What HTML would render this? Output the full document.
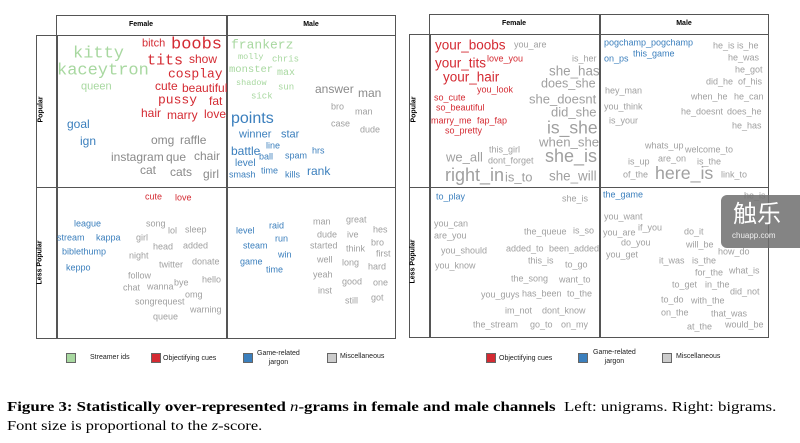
<!DOCTYPE html>
<html><head><meta charset="utf-8"><style>
body{margin:0;width:800px;height:443px;background:#fff;position:relative;overflow:hidden;font-family:"Liberation Sans",sans-serif}
i{position:absolute;font-style:normal;white-space:nowrap;line-height:1;transform:translateY(-50%);font-size:9px;color:#a0a0a0}
.m{font-family:"Liberation Mono",monospace}
.g{color:#a8d8a0}.r{color:#d42a32}.b{color:#3b7fbd}.k{color:#8a8a8a}
.bx{position:absolute;border:1px solid #555;box-sizing:border-box}
.h{position:absolute;font-size:7px;font-weight:bold;color:#000;text-align:center}
.v{position:absolute;font-size:7px;font-weight:bold;color:#000;transform:rotate(-90deg);white-space:nowrap}
.sq{position:absolute;width:10px;height:10px;border:1px solid #666;box-sizing:border-box}
.lg{position:absolute;font-size:7px;color:#222;line-height:9px;text-align:center}
</style></head><body>
<!-- left frame -->
<div class="bx" style="left:56px;top:15px;width:340px;height:21px"></div>
<div class="bx" style="left:36px;top:35px;width:360px;height:153px"></div>
<div class="bx" style="left:36px;top:187px;width:360px;height:152px"></div>
<div class="bx" style="left:56px;top:35px;width:1px;height:304px"></div>
<div class="bx" style="left:226px;top:15px;width:1px;height:324px"></div>
<div class="h" style="left:56px;top:21px;width:170px">Female</div>
<div class="h" style="left:226px;top:21px;width:170px">Male</div>
<div class="v" style="left:28px;top:106px">Popular</div>
<div class="v" style="left:18px;top:259px">Less Popular</div>
<!-- right frame -->
<div class="bx" style="left:429px;top:14px;width:340px;height:21px"></div>
<div class="bx" style="left:409px;top:34px;width:360px;height:154px"></div>
<div class="bx" style="left:409px;top:187px;width:360px;height:151px"></div>
<div class="bx" style="left:429px;top:34px;width:1px;height:304px"></div>
<div class="bx" style="left:599px;top:14px;width:1px;height:324px"></div>
<div class="h" style="left:429px;top:20px;width:170px">Female</div>
<div class="h" style="left:599px;top:20px;width:170px">Male</div>
<div class="v" style="left:401px;top:106px">Popular</div>
<div class="v" style="left:391px;top:258px">Less Popular</div>

<!-- left popular female -->
<i class="m g" style="left:73px;top:54px;font-size:17px">kitty</i>
<i class="m g" style="left:57px;top:71px;font-size:17px">kaceytron</i>
<i class="g" style="left:81px;top:87px;font-size:11px">queen</i>
<i class="r" style="left:142px;top:44px;font-size:11px">bitch</i>
<i class="m r" style="left:171px;top:45px;font-size:17px">boobs</i>
<i class="m r" style="left:147px;top:61px;font-size:15px">tits</i>
<i class="r" style="left:189px;top:59px;font-size:12px">show</i>
<i class="m r" style="left:168px;top:74px;font-size:13px">cosplay</i>
<i class="r" style="left:155px;top:86px;font-size:12px">cute</i>
<i class="r" style="left:182px;top:88px;font-size:12px">beautiful</i>
<i class="m r" style="left:158px;top:100px;font-size:13px">pussy</i>
<i class="r" style="left:209px;top:101px;font-size:12px">fat</i>
<i class="r" style="left:141px;top:113px;font-size:12px">hair</i>
<i class="r" style="left:167px;top:115px;font-size:12px">marry</i>
<i class="r" style="left:204px;top:114px;font-size:12px">love</i>
<i class="b" style="left:67px;top:124px;font-size:12px">goal</i>
<i class="b" style="left:80px;top:141px;font-size:12px">ign</i>
<i class="k" style="left:151px;top:140px;font-size:12px">omg</i>
<i class="k" style="left:180px;top:140px;font-size:12px">raffle</i>
<i class="k" style="left:111px;top:157px;font-size:12px">instagram</i>
<i class="k" style="left:166px;top:157px;font-size:12px">que</i>
<i class="k" style="left:194px;top:156px;font-size:12px">chair</i>
<i class="k" style="left:140px;top:170px;font-size:12px">cat</i>
<i class="k" style="left:170px;top:172px;font-size:12px">cats</i>
<i class="k" style="left:203px;top:174px;font-size:12px">girl</i>
<!-- left popular male -->
<i class="m g" style="left:231px;top:45px;font-size:13px">frankerz</i>
<i class="m g" style="left:238px;top:57px;font-size:8.5px">molly</i>
<i class="m g" style="left:272px;top:60px;font-size:9px">chris</i>
<i class="m g" style="left:229px;top:70px;font-size:10.5px">monster</i>
<i class="m g" style="left:277px;top:74px;font-size:10px">max</i>
<i class="m g" style="left:236px;top:83px;font-size:8.5px">shadow</i>
<i class="m g" style="left:278px;top:88px">sun</i>
<i class="m g" style="left:251px;top:97px">sick</i>
<i class="k" style="left:315px;top:89px;font-size:12px">answer</i>
<i class="k" style="left:358px;top:93px;font-size:12px">man</i>
<i style="left:331px;top:107px">bro</i>
<i style="left:355px;top:112px">man</i>
<i style="left:331px;top:124px">case</i>
<i style="left:360px;top:130px">dude</i>
<i class="b" style="left:231px;top:119px;font-size:16px">points</i>
<i class="b" style="left:239px;top:135px;font-size:11px">winner</i>
<i class="b" style="left:281px;top:135px;font-size:11px">star</i>
<i class="b" style="left:231px;top:151px;font-size:12px">battle</i>
<i class="b" style="left:266px;top:146px">line</i>
<i class="b" style="left:312px;top:151px">hrs</i>
<i class="b" style="left:259px;top:157px">ball</i>
<i class="b" style="left:285px;top:156px">spam</i>
<i class="b" style="left:235px;top:164px;font-size:10px">level</i>
<i class="b" style="left:261px;top:171px">time</i>
<i class="b" style="left:285px;top:175px">kills</i>
<i class="b" style="left:307px;top:171px;font-size:12px">rank</i>
<i class="b" style="left:229px;top:175px">smash</i>
<!-- left less female -->
<i class="r" style="left:145px;top:197px">cute</i>
<i class="r" style="left:175px;top:198px">love</i>
<i class="b" style="left:74px;top:224px">league</i>
<i class="b" style="left:57px;top:238px">stream</i>
<i class="b" style="left:96px;top:238px">kappa</i>
<i class="b" style="left:62px;top:252px">biblethump</i>
<i class="b" style="left:66px;top:268px">keppo</i>
<i style="left:146px;top:224px">song</i><i style="left:168px;top:231px">lol</i><i style="left:185px;top:230px">sleep</i>
<i style="left:136px;top:238px">girl</i><i style="left:153px;top:247px">head</i><i style="left:183px;top:246px">added</i>
<i style="left:129px;top:256px">night</i><i style="left:159px;top:265px">twitter</i><i style="left:192px;top:262px">donate</i>
<i style="left:128px;top:276px">follow</i><i style="left:123px;top:288px">chat</i><i style="left:147px;top:287px">wanna</i>
<i style="left:174px;top:283px">bye</i><i style="left:202px;top:280px">hello</i><i style="left:185px;top:295px">omg</i>
<i style="left:135px;top:302px">songrequest</i><i style="left:190px;top:310px">warning</i><i style="left:153px;top:317px">queue</i>
<!-- left less male -->
<i class="b" style="left:236px;top:231px">level</i><i class="b" style="left:269px;top:226px">raid</i><i class="b" style="left:275px;top:239px">run</i>
<i class="b" style="left:243px;top:246px">steam</i><i class="b" style="left:278px;top:255px">win</i><i class="b" style="left:240px;top:262px">game</i><i class="b" style="left:266px;top:270px">time</i>
<i style="left:313px;top:222px">man</i><i style="left:346px;top:220px">great</i><i style="left:373px;top:230px">hes</i>
<i style="left:317px;top:235px">dude</i><i style="left:347px;top:235px">ive</i><i style="left:371px;top:243px">bro</i>
<i style="left:310px;top:246px">started</i><i style="left:346px;top:249px">think</i><i style="left:376px;top:254px">first</i>
<i style="left:317px;top:260px">well</i><i style="left:342px;top:263px">long</i><i style="left:368px;top:267px">hard</i>
<i style="left:313px;top:275px">yeah</i><i style="left:342px;top:282px">good</i><i style="left:373px;top:283px">one</i>
<i style="left:318px;top:291px">inst</i><i style="left:345px;top:301px">still</i><i style="left:371px;top:298px">got</i>

<!-- right popular female -->
<i class="r" style="left:435px;top:45px;font-size:13.5px">your_boobs</i>
<i style="left:514px;top:45px">you_are</i>
<i class="r" style="left:435px;top:63px;font-size:13.5px">your_tits</i>
<i class="r" style="left:487px;top:59px">love_you</i>
<i style="left:572px;top:59px">is_her</i>
<i style="left:549px;top:71px;font-size:13.4px">she_has</i>
<i class="r" style="left:443px;top:77px;font-size:13.5px">your_hair</i>
<i style="left:541px;top:84px;font-size:12.6px">does_she</i>
<i class="r" style="left:477px;top:90px">you_look</i>
<i class="r" style="left:434px;top:98px">so_cute</i>
<i style="left:529px;top:99px;font-size:13px">she_doesnt</i>
<i class="r" style="left:436px;top:108px">so_beautiful</i>
<i style="left:551px;top:112px;font-size:13px">did_she</i>
<i class="r" style="left:431px;top:121px">marry_me</i>
<i class="r" style="left:477px;top:121px">fap_fap</i>
<i style="left:547px;top:128px;font-size:17.5px">is_she</i>
<i class="r" style="left:445px;top:131px">so_pretty</i>
<i style="left:539px;top:142px;font-size:13.2px">when_she</i>
<i style="left:489px;top:150px">this_girl</i>
<i style="left:446px;top:157px;font-size:13px">we_all</i>
<i style="left:545px;top:156px;font-size:18px">she_is</i>
<i style="left:488px;top:161px">dont_forget</i>
<i style="left:445px;top:175px;font-size:18px">right_in</i>
<i style="left:505px;top:177px;font-size:13px">is_to</i>
<i style="left:549px;top:176px;font-size:13.4px">she_will</i>
<!-- right popular male -->
<i class="b" style="left:604px;top:43px">pogchamp_pogchamp</i>
<i class="b" style="left:633px;top:54px">this_game</i>
<i class="b" style="left:604px;top:59px">on_ps</i>
<i style="left:713px;top:46px">he_is is_he</i><i style="left:728px;top:58px">he_was</i><i style="left:735px;top:70px">he_got</i>
<i style="left:706px;top:82px">did_he</i><i style="left:738px;top:82px">of_his</i><i style="left:605px;top:91px">hey_man</i>
<i style="left:691px;top:97px">when_he</i><i style="left:734px;top:97px">he_can</i><i style="left:604px;top:107px">you_think</i>
<i style="left:681px;top:112px">he_doesnt</i><i style="left:727px;top:112px">does_he</i><i style="left:609px;top:121px">is_your</i>
<i style="left:732px;top:126px">he_has</i><i style="left:645px;top:146px">whats_up</i><i style="left:685px;top:150px">welcome_to</i>
<i style="left:628px;top:162px">is_up</i><i style="left:658px;top:159px">are_on</i><i style="left:697px;top:162px">is_the</i>
<i style="left:623px;top:175px">of_the</i><i style="left:655px;top:174px;font-size:17.8px">here_is</i><i style="left:721px;top:175px">link_to</i>
<!-- right less female -->
<i class="b" style="left:436px;top:197px">to_play</i><i style="left:562px;top:199px">she_is</i>
<i style="left:434px;top:224px">you_can</i><i style="left:434px;top:236px">are_you</i><i style="left:524px;top:232px">the_queue</i>
<i style="left:573px;top:231px">is_so</i><i style="left:441px;top:251px">you_should</i><i style="left:506px;top:249px">added_to</i>
<i style="left:549px;top:249px">been_added</i><i style="left:528px;top:261px">this_is</i><i style="left:565px;top:265px">to_go</i>
<i style="left:435px;top:266px">you_know</i><i style="left:511px;top:279px">the_song</i><i style="left:559px;top:280px">want_to</i>
<i style="left:481px;top:295px">you_guys</i><i style="left:522px;top:294px">has_been</i><i style="left:567px;top:294px">to_the</i>
<i style="left:505px;top:311px">im_not</i><i style="left:542px;top:311px">dont_know</i>
<i style="left:473px;top:325px">the_stream</i><i style="left:530px;top:325px">go_to</i><i style="left:561px;top:325px">on_my</i>
<!-- right less male -->
<i class="b" style="left:603px;top:195px">the_game</i><i style="left:744px;top:196px">he_is</i>
<i style="left:604px;top:217px">you_want</i><i style="left:603px;top:233px">you_are</i><i style="left:638px;top:228px">if_you</i>
<i style="left:684px;top:232px">do_it</i><i style="left:621px;top:243px">do_you</i><i style="left:686px;top:245px">will_be</i>
<i style="left:606px;top:255px">you_get</i><i style="left:718px;top:252px">how_do</i><i style="left:659px;top:261px">it_was</i>
<i style="left:692px;top:261px">is_the</i><i style="left:695px;top:273px">for_the</i><i style="left:729px;top:271px">what_is</i>
<i style="left:672px;top:285px">to_get</i><i style="left:705px;top:285px">in_the</i><i style="left:730px;top:292px">did_not</i>
<i style="left:661px;top:300px">to_do</i><i style="left:691px;top:301px">with_the</i><i style="left:661px;top:313px">on_the</i>
<i style="left:711px;top:314px">that_was</i><i style="left:687px;top:327px">at_the</i><i style="left:725px;top:325px">would_be</i>

<!-- watermark -->
<div style="position:absolute;left:721px;top:195px;width:90px;height:53px;background:rgba(110,110,110,0.85);border-radius:6px"></div>
<div style="position:absolute;left:733px;top:198px;font-size:24px;color:#fff;font-family:'Noto Sans CJK SC',sans-serif;line-height:1.2">触乐</div>
<div style="position:absolute;left:732px;top:231px;font-size:8px;color:#eee">chuapp.com</div>

<!-- legends -->
<div class="sq" style="left:66px;top:353px;background:#a8d8a0"></div><div class="lg" style="left:90px;top:353px">Streamer ids</div>
<div class="sq" style="left:151px;top:353px;background:#d42a32"></div><div class="lg" style="left:163px;top:354px">Objectifying cues</div>
<div class="sq" style="left:243px;top:353px;background:#3b7fbd"></div><div class="lg" style="left:257px;top:349px">Game-related<br>jargon</div>
<div class="sq" style="left:327px;top:353px;background:#ccc"></div><div class="lg" style="left:340px;top:352px">Miscellaneous</div>
<div class="sq" style="left:486px;top:353px;background:#d42a32"></div><div class="lg" style="left:499px;top:354px">Objectifying cues</div>
<div class="sq" style="left:578px;top:353px;background:#3b7fbd"></div><div class="lg" style="left:593px;top:348px">Game-related<br>jargon</div>
<div class="sq" style="left:662px;top:353px;background:#ccc"></div><div class="lg" style="left:676px;top:352px">Miscellaneous</div>

<!-- caption -->
<div style="position:absolute;left:7px;top:398px;font-family:'Liberation Serif',serif;font-size:14px;line-height:19px;color:#000;white-space:nowrap;transform:scaleX(1.2);transform-origin:0 0"><b>Figure 3: Statistically over-represented <span style="font-style:italic;font-weight:normal">n</span>-grams in female and male channels</b>&nbsp; Left: unigrams. Right: bigrams.</div>
<div style="position:absolute;left:7px;top:417px;font-family:'Liberation Serif',serif;font-size:14px;line-height:19px;color:#000;white-space:nowrap;transform:scaleX(1.17);transform-origin:0 0">Font size is proportional to the <span style="font-style:italic">z</span>-score.</div>
</body></html>
